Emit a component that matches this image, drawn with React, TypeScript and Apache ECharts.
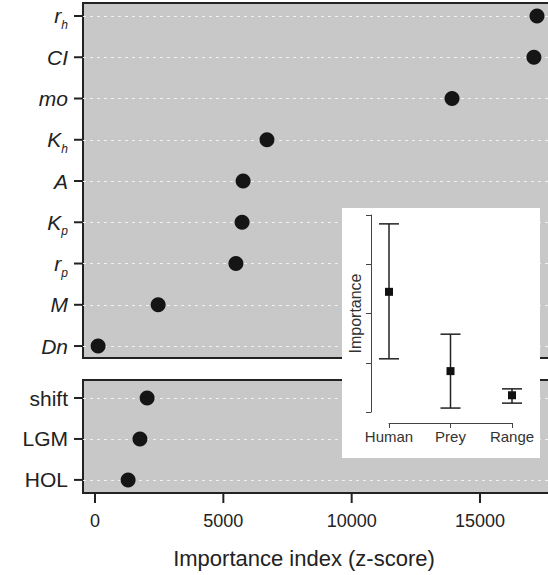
import React, { useEffect, useRef } from 'react';
import * as echarts from 'echarts';

const FONT = '"Liberation Sans", Arial, Helvetica, sans-serif';

// top panel (top to bottom)
const topCategories = ['{i|r}{s|h}', '{i|CI}', '{i|mo}', '{i|K}{s|h}', '{i|A}', '{i|K}{s|p}', '{i|r}{s|p}', '{i|M}', '{i|Dn}'];
const topValues = [17220, 17100, 13910, 6700, 5770, 5730, 5490, 2460, 120];
// bottom panel (top to bottom)
const bottomCategories = ['shift', 'LGM', 'HOL'];
const bottomValues = [2030, 1750, 1290];
const xTicks = [0, 5000, 10000, 15000];
const xTitle = 'Importance index (z-score)';
// inset
const insetCategories = ['Human', 'Prey', 'Range'];
const insetMean = [2.44, 0.83, 0.34];
const insetLow = [1.08, 0.08, 0.18];
const insetHigh = [3.82, 1.58, 0.47];

const XMIN = -468;
const XMAX = 17844;
const TOP_MIN = -0.29;
const TOP_MAX = 8.315;
const BOT_MIN = -0.32;
const BOT_MAX = 2.44;

export default function App() {
  const ref = useRef<HTMLDivElement>(null);
  useEffect(() => {
    if (!ref.current) return;
    const chart = echarts.init(ref.current, null, { renderer: 'svg' });
    const nTop = topCategories.length;
    const nBot = bottomCategories.length;
    const topPos = topCategories.map((_, i) => i);
    const botPos = bottomCategories.map((_, i) => i);
    const dash = { color: 'rgba(245,245,245,0.9)', type: [3, 4], width: 1 };
    const gridStyle = {
      show: true,
      backgroundColor: '#c8c8c8',
      borderColor: '#222',
      borderWidth: 2,
      outerBoundsMode: 'none',
    };
    const hiddenX = {
      type: 'value', min: XMIN, max: XMAX,
      axisLine: { show: false, onZero: false }, axisTick: { show: false },
      axisLabel: { show: false }, splitLine: { show: false },
    };
    // tick marks carried by the labels themselves (rich-text boxes)
    const yTickRich = {
      g: { width: 6, fontSize: 10, lineHeight: 10 },
      t: { width: 8, height: 2, lineHeight: 2, fontSize: 1, backgroundColor: '#222' },
    };
    chart.setOption({
      animation: false,
      textStyle: { fontFamily: FONT },
      grid: [
        { left: 83, right: -5, top: 3, bottom: 575 - 358, ...gridStyle },
        { left: 83, right: -5, top: 380, bottom: 575 - 493, ...gridStyle },
        { left: 389, right: 548 - 512, top: 215, bottom: 575 - 412, show: false, outerBoundsMode: 'none' },
      ],
      xAxis: [
        { ...hiddenX, gridIndex: 0 },
        {
          ...hiddenX, gridIndex: 1,
          axisLabel: {
            show: true, customValues: xTicks, margin: 1,
            formatter: (v: number) => '{t| }\n{n|' + String(v) + '}',
            rich: {
              t: { width: 2, height: 9, lineHeight: 9, fontSize: 1, backgroundColor: '#222' },
              n: { fontSize: 18, lineHeight: 36, color: '#222', fontFamily: FONT },
            },
          },
        },
        {
          type: 'category', gridIndex: 2, data: insetCategories, boundaryGap: false, z: 20,
          offset: 11,
          axisLine: { show: true, onZero: false, lineStyle: { color: '#444', width: 1 } },
          axisTick: { show: true, interval: 0, length: 5, lineStyle: { color: '#444', width: 1 } },
          axisLabel: { interval: 0, fontSize: 15, color: '#333', margin: 6, fontFamily: FONT, hideOverlap: false },
          splitLine: { show: false },
        },
      ],
      yAxis: [
        {
          type: 'value', gridIndex: 0, min: TOP_MIN, max: TOP_MAX,
          axisLine: { show: false, onZero: false }, splitLine: { show: false }, axisTick: { show: false },
          axisLabel: {
            show: true, customValues: topPos, margin: 1,
            formatter: (v: number) => topCategories[nTop - 1 - Math.round(v)] + '{g| }{t| }',
            rich: {
              i: { fontStyle: 'italic', fontSize: 21, color: '#222', fontFamily: FONT, lineHeight: 30 },
              s: { fontStyle: 'italic', fontSize: 12, color: '#222', fontFamily: FONT, lineHeight: 12, verticalAlign: 'bottom' },
              ...yTickRich,
            },
          },
        },
        {
          type: 'value', gridIndex: 1, min: BOT_MIN, max: BOT_MAX,
          axisLine: { show: false, onZero: false }, splitLine: { show: false }, axisTick: { show: false },
          axisLabel: {
            show: true, customValues: botPos, margin: 1,
            formatter: (v: number) => '{b|' + bottomCategories[nBot - 1 - Math.round(v)] + '}{g| }{t| }',
            rich: {
              b: { fontSize: 21, color: '#222', fontFamily: FONT, lineHeight: 26 },
              ...yTickRich,
            },
          },
        },
        {
          type: 'value', gridIndex: 2, min: 0, max: 4, interval: 1, z: 20, offset: 18,
          axisLine: { show: true, onZero: false, lineStyle: { color: '#444', width: 1 } },
          axisTick: { show: true, length: 5, lineStyle: { color: '#444', width: 1 } },
          axisLabel: { show: false }, splitLine: { show: false },
          name: 'Importance', nameLocation: 'middle', nameRotate: 90, nameGap: 8,
          nameTextStyle: { fontSize: 16, color: '#333', fontFamily: FONT },
        },
      ],
      series: [
        {
          type: 'scatter', xAxisIndex: 0, yAxisIndex: 0, z: 1, data: [],
          markLine: {
            z: 1, silent: true, symbol: 'none', label: { show: false }, lineStyle: dash,
            data: topPos.map((p) => ({ yAxis: p })),
          },
        },
        {
          type: 'scatter', xAxisIndex: 1, yAxisIndex: 1, z: 1, data: [],
          markLine: {
            z: 1, silent: true, symbol: 'none', label: { show: false }, lineStyle: dash,
            data: botPos.map((p) => ({ yAxis: p })),
          },
        },
        {
          type: 'scatter', xAxisIndex: 0, yAxisIndex: 0, symbolSize: 15, z: 3,
          itemStyle: { color: '#151515', opacity: 1 },
          data: topValues.map((v, i) => [v, nTop - 1 - i]),
        },
        {
          type: 'scatter', xAxisIndex: 1, yAxisIndex: 1, symbolSize: 15, z: 3,
          itemStyle: { color: '#151515', opacity: 1 },
          data: bottomValues.map((v, i) => [v, nBot - 1 - i]),
        },
        {
          type: 'custom', xAxisIndex: 2, yAxisIndex: 2, z: 30,
          data: insetCategories.map((_, i) => [i, insetLow[i], insetHigh[i]]),
          encode: { x: 0, y: [1, 2] },
          renderItem: (params: any, api: any) => {
            const x = api.value(0);
            const pLo = api.coord([x, api.value(1)]);
            const pHi = api.coord([x, api.value(2)]);
            const w = 10;
            const style = { stroke: '#222', lineWidth: 1.5 };
            return {
              type: 'group',
              children: [
                { type: 'line', shape: { x1: pLo[0], y1: pLo[1], x2: pHi[0], y2: pHi[1] }, style },
                { type: 'line', shape: { x1: pLo[0] - w, y1: pLo[1], x2: pLo[0] + w, y2: pLo[1] }, style },
                { type: 'line', shape: { x1: pHi[0] - w, y1: pHi[1], x2: pHi[0] + w, y2: pHi[1] }, style },
              ],
            };
          },
        },
        {
          type: 'scatter', xAxisIndex: 2, yAxisIndex: 2, symbol: 'rect', symbolSize: 8, z: 31,
          itemStyle: { color: '#111', opacity: 1 },
          data: insetMean.map((v, i) => [i, v]),
        },
      ],
      graphic: [
        { type: 'rect', z: 10, shape: { x: 342, y: 208, width: 198, height: 250 }, style: { fill: '#fff' } },
        {
          type: 'text', x: 304, y: 558, z: 10,
          style: { text: xTitle, fontSize: 22, fill: '#222', fontFamily: FONT, textAlign: 'center', textVerticalAlign: 'middle' },
        },
      ],
    });
    return () => chart.dispose();
  }, []);
  return <div ref={ref} style={{ width: 548, height: 575, position: 'absolute', left: 0, top: 0 }} />;
}
